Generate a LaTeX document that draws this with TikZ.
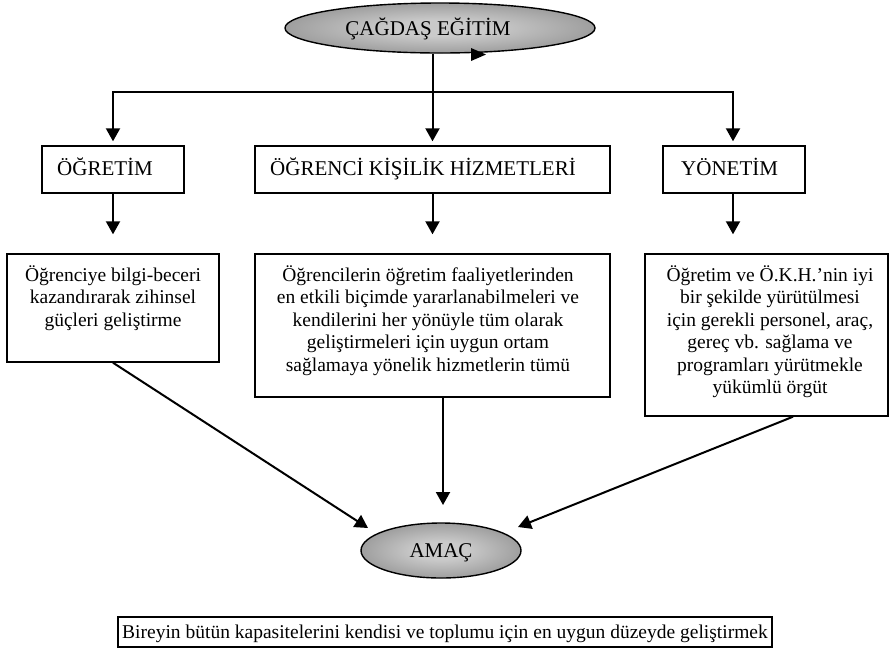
\documentclass[tikz,border=0pt]{standalone}
\usepackage{fontspec}
\setmainfont{Liberation Serif}
\usetikzlibrary{arrows.meta,shapes.geometric,calc}
\definecolor{shin}{HTML}{CACACA}
\definecolor{shout}{HTML}{5E5E5E}
\pgfdeclareradialshading{ovalshade}{\pgfpoint{0bp}{0bp}}{color(0bp)=(shin); color(8bp)=(shin); color(50bp)=(shout); color(75bp)=(shout)}
\begin{document}
\begin{tikzpicture}[x=1pt,y=-1pt,
  box/.style={draw=black, line width=1.4pt, inner sep=0pt},
  arr/.style={line width=2pt, -{Triangle[width=14pt,length=13pt]}},
  lbl/.style={font=\fontsize{21}{24}\selectfont, inner sep=0pt},
  body/.style={font=\fontsize{19.5}{22.5}\selectfont, align=center, inner sep=0pt, anchor=north},
  oval/.style={ellipse, draw=black, line width=1.4pt, inner sep=0pt, shading=ovalshade}]
\useasboundingbox (0,0) rectangle (890,649);

% top ellipse
\node[oval, minimum width=310pt, minimum height=50pt] (top) at (440,28) {};
\node[lbl, anchor=base] (toptext) at (428,35) {ÇAĞDAŞ EĞİTİM};
\fill (471,48) -- (486,54.5) -- (471,61) -- cycle;

% second row
\node[box, minimum width=142pt, minimum height=47pt] (ogretim) at (113,169.5) {};
\node[lbl, anchor=base west] (ogretimt) at (57,175) {ÖĞRETİM};
\node[box, minimum width=355pt, minimum height=47pt] (okh) at (432.5,169.5) {};
\node[lbl, anchor=base west] (okht) at (270,175) {ÖĞRENCİ KİŞİLİK HİZMETLERİ};
\node[box, minimum width=142pt, minimum height=47pt] (yonetim) at (734,169.5) {};
\node[lbl, anchor=base west] (yonetimt) at (681,175) {YÖNETİM};

% third row
\node[box, minimum width=212pt, minimum height=108pt] (lbox) at (113,308) {};
\node[body] (lboxt) at (113,265) {Öğrenciye bilgi-beceri\\kazandırarak zihinsel\\güçleri geliştirme};
\node[box, minimum width=355pt, minimum height=143pt] (mbox) at (432.5,325.5) {};
\node[body] (mboxt) at (428,265) {Öğrencilerin öğretim faaliyetlerinden\\en etkili biçimde yararlanabilmeleri ve\\kendilerini her yönüyle tüm olarak\\geliştirmeleri için uygun ortam\\sağlamaya yönelik hizmetlerin tümü};
\node[box, minimum width=243pt, minimum height=162pt] (rbox) at (766.5,335) {};
\node[body] (rboxt) at (770,265) {Öğretim ve Ö.K.H.’nin iyi\\bir şekilde yürütülmesi\\için gerekli personel, araç,\\gereç vb. sağlama ve\\programları yürütmekle\\yükümlü örgüt};

% goal
\node[oval, minimum width=160pt, minimum height=55pt] (amac) at (441,550.5) {};
\node[lbl, anchor=base] (amact) at (441,557) {AMAÇ};

\node[box, minimum width=654pt, minimum height=30pt] (goal) at (445,632) {};
\node[font=\fontsize{19.5}{22.5}\selectfont, inner sep=0pt, anchor=base] (goalt) at (445,638) {Bireyin bütün kapasitelerini kendisi ve toplumu için en uygun düzeyde geliştirmek};

% connectors
\coordinate (hbar) at (432.5,92);
\draw[line width=2pt] (top.south -| okh.north) -- (hbar);
\draw[arr, shorten >=4pt] (hbar) -- (okh.north);
\draw[arr, shorten >=4pt] (hbar) -| (ogretim.north);
\draw[arr, shorten >=4pt] (hbar) -| ($(yonetim.north)+(-1,0)$);

\draw[arr, shorten >=19pt] (ogretim.south) -- (ogretim.south |- lbox.north);
\draw[arr, shorten >=19pt] (okh.south) -- (okh.south |- mbox.north);
\draw[arr, shorten >=19pt] ($(yonetim.south)+(-1,0)$) -- ($(yonetim.south |- rbox.north)+(-1,0)$);

\coordinate (mstart) at ($(mbox.south)+(10.5,0)$);
\coordinate (mend) at (443,505);
\draw[arr] (mstart) -- (mend);
\coordinate (lend) at (368,528);
\draw[arr] (lbox.south) -- (lend);
\coordinate (rstart) at ($(rbox.south)+(26.5,0)$);
\coordinate (rend) at (518,527);
\draw[arr] (rstart) -- (rend);
\end{tikzpicture}
\end{document}
